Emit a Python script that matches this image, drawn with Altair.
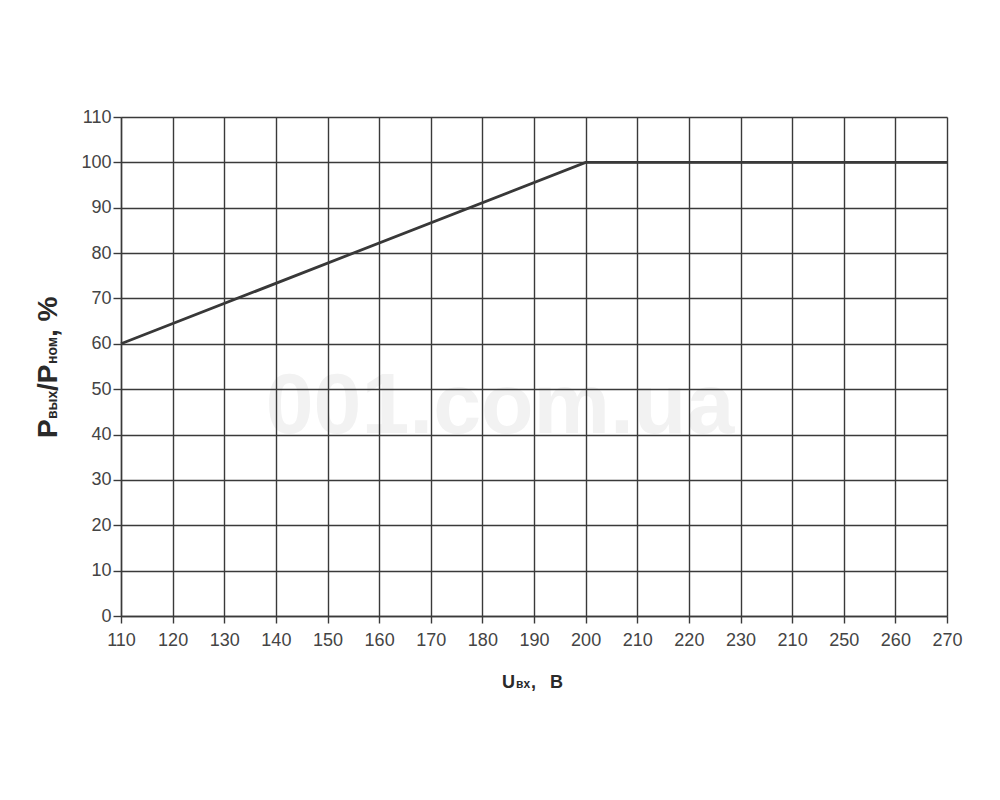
import altair as alt
import pandas as pd

# Data
u_in = [110, 200, 270]
p_out = [60, 100, 100]

x_ticks = [110, 120, 130, 140, 150, 160, 170, 180, 190, 200, 210, 220, 230, 240, 250, 260, 270]
x_tick_labels = ["110", "120", "130", "140", "150", "160", "170", "180", "190", "200",
                 "210", "220", "230", "210", "250", "260", "270"]
y_ticks = [0, 10, 20, 30, 40, 50, 60, 70, 80, 90, 100, 110]

y_title_parts = ["P", "вых", "/P", "ном", ", %"]
y_title_sizes = [28, 14, 28, 14, 28]
y_title_pos = [321, 302, 274, 247, 220]

x_title_parts = ["U", "вх", ",", "В"]
x_title_sizes = [18, 12, 18, 18]
x_title_pos = [381, 395, 410, 429]

watermark = "001.com.ua"

W, H = 826, 499
grid_color = "#3a3a3a"
label_color = "#444444"
font = "Liberation Sans"

label_expr = " : ".join(
    [f"datum.value == {v} ? '{l}'" for v, l in zip(x_ticks, x_tick_labels)] + ["datum.label"]
)

df = pd.DataFrame({"u": u_in, "p": p_out})

x_scale = alt.Scale(domain=[110, 270], nice=False, zero=False)
y_scale = alt.Scale(domain=[0, 110], nice=False)

x_axis = alt.Axis(values=x_ticks, labelExpr=label_expr, title=None, grid=True,
                  gridColor=grid_color, gridWidth=1.4, gridOpacity=1,
                  domainColor=grid_color, domainWidth=1.4, tickColor=grid_color,
                  tickWidth=1.4, tickSize=7, labelFont=font, labelFontSize=18,
                  labelColor=label_color, labelPadding=8, labelFlush=False,
                  labelOverlap=False, zindex=1)
y_axis = alt.Axis(values=y_ticks, title=None, grid=True,
                  gridColor=grid_color, gridWidth=1.4, gridOpacity=1,
                  domainColor=grid_color, domainWidth=1.4, tickColor=grid_color,
                  tickWidth=1.4, tickSize=8, labelFont=font, labelFontSize=18,
                  labelColor=label_color, labelPadding=2, labelFlush=False,
                  labelOverlap=False, zindex=1)

wm = alt.Chart(pd.DataFrame({"t": [watermark]})).mark_text(
    font=font, fontSize=86, fontWeight="bold", color="#f2f2f2",
    align="center", baseline="alphabetic"
).encode(x=alt.value(379), y=alt.value(316), text="t:N")

line = alt.Chart(df).mark_line(color="#383838", strokeWidth=2.8).encode(
    x=alt.X("u:Q", scale=x_scale, axis=x_axis),
    y=alt.Y("p:Q", scale=y_scale, axis=y_axis),
)

layers = [wm, line]
for t, s, p in zip(y_title_parts, y_title_sizes, y_title_pos):
    layers.append(
        alt.Chart(pd.DataFrame({"t": [t]})).mark_text(
            font=font, fontSize=s, fontWeight="bold", color="#2a2a2a",
            angle=270, align="left", baseline="alphabetic"
        ).encode(x=alt.value(-64), y=alt.value(p), text="t:N")
    )
for t, s, p in zip(x_title_parts, x_title_sizes, x_title_pos):
    layers.append(
        alt.Chart(pd.DataFrame({"t": [t]})).mark_text(
            font=font, fontSize=s, fontWeight="bold", color="#2a2a2a",
            align="left", baseline="alphabetic"
        ).encode(x=alt.value(p), y=alt.value(571), text="t:N")
    )

chart = alt.layer(*layers).properties(
    width=W, height=H,
    autosize="none",
    padding={"left": 113, "top": 109, "right": 45, "bottom": 176},
).configure_view(stroke=None).configure(background="white")

chart.save("out.html", embed_options={"renderer": "svg", "actions": False})
